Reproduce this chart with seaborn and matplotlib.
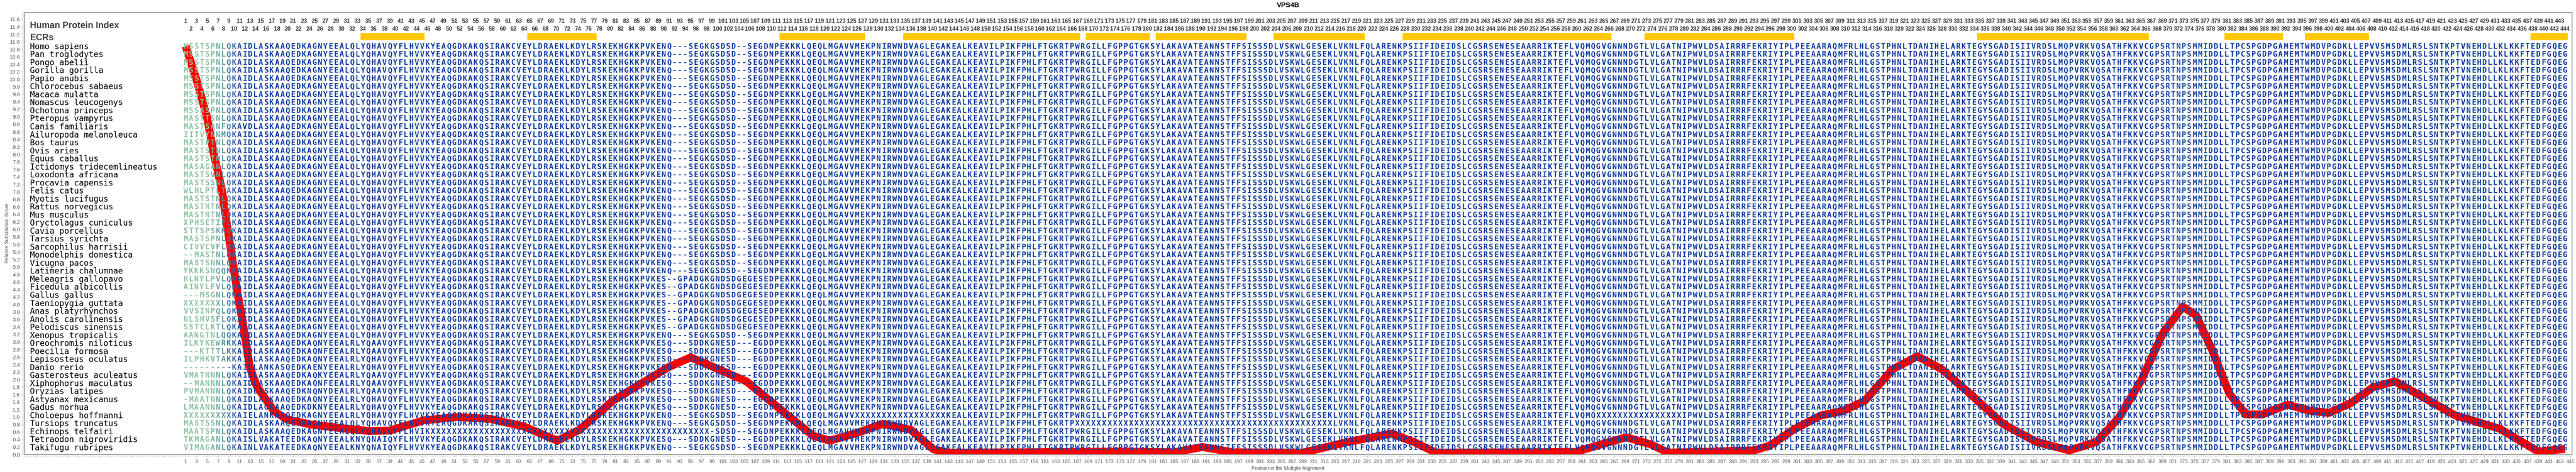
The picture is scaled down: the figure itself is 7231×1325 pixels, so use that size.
import numpy as np
import matplotlib
matplotlib.use('Agg')
import matplotlib.pyplot as plt
import matplotlib.colors as mcolors
from matplotlib import font_manager
from matplotlib.patches import Rectangle
import seaborn as sns

# %% data
species = [
    'Homo sapiens', 'Pan troglodytes', 'Pongo abelii', 'Gorilla gorilla',
    'Papio anubis', 'Chlorocebus sabaeus', 'Macaca mulatta',
    'Nomascus leucogenys', 'Ochotona princeps', 'Pteropus vampyrus',
    'Canis familiaris', 'Ailuropoda melanoleuca', 'Bos taurus', 'Ovis aries',
    'Equus caballus', 'Ictidomys tridecemlineatus', 'Loxodonta africana',
    'Procavia capensis', 'Felis catus', 'Myotis lucifugus',
    'Rattus norvegicus', 'Mus musculus', 'Oryctolagus cuniculus',
    'Cavia porcellus', 'Tarsius syrichta', 'Sarcophilus harrisii',
    'Monodelphis domestica', 'Vicugna pacos', 'Latimeria chalumnae',
    'Meleagris gallopavo', 'Ficedula albicollis', 'Gallus gallus',
    'Taeniopygia guttata', 'Anas platyrhynchos', 'Anolis carolinensis',
    'Pelodiscus sinensis', 'Xenopus tropicalis', 'Oreochromis niloticus',
    'Poecilia formosa', 'Lepisosteus oculatus', 'Danio rerio',
    'Gasterosteus aculeatus', 'Xiphophorus maculatus', 'Oryzias latipes',
    'Astyanax mexicanus', 'Gadus morhua', 'Choloepus hoffmanni',
    'Tursiops truncatus', 'Echinops telfairi', 'Tetraodon nigroviridis',
    'Takifugu rubripes']

human_aligned = (
    "MSSTSPNLQKAIDLASKAAQEDKAGNYEEALQLYQHAVQYFLHVVKYEAQGDKAKQSIRA"
    "KCVEYLDRAEKLKDYLRSKEKHGKKPVKENQ---SEGKGSDSD--SEGDNPEKKK"
    "LQEQLMGAVVMEKPNIRWNDVAGLEGAKEALKEAVILPIKFPHLFTGKRTPWRGILLFGP"
    "PGTGKSYLAKAVATEANNSTFFSISSSDLVSKWLGESEKLVKNLFQLARENKPSIIFIDE"
    "IDSLCGSRSENESEAARRIKTEFLVQMQGVGNNNDGTLVLGATNIPWVLDSAIRRRFEKR"
    "IYIPLPEEAARAQMFRLHLGSTPHNLTDANIHELARKTEGYSGADISIIVRDSLMQPVRK"
    "VQSATHFKKVCGPSRTNPSMMIDDLLTPCSPGDPGAMEMTWMDVPGDKLLEPVVSMSDML"
    "RSLSNTKPTVNEHDLLKLKKFTEDFGQEG")

prefixes = {
    'Ochotona princeps': 'MSSASPNLQKAID',
    'Pteropus vampyrus': 'MASTTSNLQKAID',
    'Canis familiaris': 'MASTSANFQKAVD',
    'Ailuropoda melanoleuca': 'IITVYNNMQKAID',
    'Bos taurus': 'MASTPTNLQKAID',
    'Ovis aries': 'MASTSTNLQKAID',
    'Equus caballus': 'MASTSTNLQKAID',
    'Ictidomys tridecemlineatus': 'MASAGANLQKAID',
    'Loxodonta africana': 'MASTSVNLQKAID',
    'Procavia capensis': 'MASTSSNLQKAID',
    'Felis catus': 'WLHLPTLTAKAID',
    'Myotis lucifugus': 'MASTSTNLQKAID',
    'Rattus norvegicus': 'MASTNTNLQKAID',
    'Mus musculus': 'MASTNTNLQKAID',
    'Oryctolagus cuniculus': 'XPHSETIFLKAID',
    'Cavia porcellus': 'STTSPSKKQKAID',
    'Tarsius syrichta': 'MASTSPNLQKAID',
    'Sarcophilus harrisii': 'CIVVCVFLQKAID',
    'Monodelphis domestica': '--MASTNLQKAID',
    'Vicugna pacos': 'MASTSNNLQKAID',
    'Latimeria chalumnae': 'YKKKSNQQKKAID',
    'Meleagris gallopavo': 'HLNYLPVLQKAID',
    'Ficedula albicollis': 'AINYLFVLQKAID',
    'Gallus gallus': '---MSGNLQKAID',
    'Taeniopygia guttata': 'XXXXXXXLQKAID',
    'Anas platyrhynchos': 'VVSINPQLQKAID',
    'Anolis carolinensis': 'NLSHVSFLQKAID',
    'Pelodiscus sinensis': 'SSTCLKTLQKAID',
    'Xenopus tropicalis': 'AANGTNLQQKAID',
    'Oreochromis niloticus': 'ILKYKEWRKKAIDLASKAAQEDKAQNYEEALRLYQAAV',
    'Poecilia formosa': '---KTTTLKKAIDLASKAAQEDKAQNFEEALRLYQAAV',
    'Lepisosteus oculatus': 'ILPHKVTAKKAIDLASKAAQEDKAQNYEEALRLYQHAV',
    'Danio rerio': '---------KAIDLANKASQEDKAENYEEALRLYQHAV',
    'Gasterosteus aculeatus': 'VMATNNNLQKAIDLASKAAQEDKAQKYEEALRLYQAAV',
    'Xiphophorus maculatus': '--MANNNLQKAIDLASKAAQEDKAQNFEEALRLYQAAV',
    'Oryzias latipes': 'PVMANNNLQKAIDLASKAAQEDKNQNYDEALRLYQAAV',
    'Astyanax mexicanus': '-MAATNNLQKAIDLASKAAQEDKAQNYEEALRLYQHAV',
    'Gadus morhua': 'LMAANNNLQKAIDLAGKAAQEDKDKNYEEALRLYQHAV',
    'Choloepus hoffmanni': 'XXXXXXXXXKAIELANKAAQEDKAGNYEEALRLYQHAV',
    'Tursiops truncatus': 'MASTSSNLQKAIDLASKAAQEDKAGNYEEALQLYQHAV',
    'Echinops telfairi': 'MAATSPNLQKAIDLASKAAQEDKAGNYEEALQLYQHAV',
    'Tetraodon nigroviridis': 'TKMAGANLQKAISLVAKATEEDKAQNYEEALKNYQNAI',
    'Takifugu rubripes': 'VIMAGANLQKAINLVAKATEEDKAQNYEEALKNYQNAI',
}

bird_gap = (88, 'KES--GPADGKGNDSDGEGESEDPEKKK')
fish_gap = (88, 'KESQ---SDDKGNESD---EGDDPEKKK')
edits = {
    'Meleagris gallopavo': [bird_gap], 'Ficedula albicollis': [bird_gap],
    'Gallus gallus': [bird_gap], 'Taeniopygia guttata': [bird_gap],
    'Anas platyrhynchos': [bird_gap], 'Anolis carolinensis': [bird_gap],
    'Pelodiscus sinensis': [bird_gap],
    'Oreochromis niloticus': [fish_gap], 'Poecilia formosa': [fish_gap],
    'Lepisosteus oculatus': [fish_gap], 'Danio rerio': [fish_gap],
    'Gasterosteus aculeatus': [fish_gap], 'Xiphophorus maculatus': [fish_gap],
    'Oryzias latipes': [fish_gap], 'Astyanax mexicanus': [fish_gap],
    'Gadus morhua': [fish_gap], 'Tetraodon nigroviridis': [fish_gap],
    'Choloepus hoffmanni': [(126, 'X' * 17), (264, 'X' * 16)],
    'Tursiops truncatus': [(167, 'X' * 48)],
    'Echinops telfairi': [(45, 'I'), (47, 'X' * 52), (99, '-')],
}

# relative substitution score (position, value)
line_x = [1, 3.2, 5, 6.2, 7.7, 8.6, 9.6, 10.6, 11.7, 12.5, 13.0, 14.2, 15.7,
          17.5, 19.8, 24.3, 30.2, 35, 39, 45.3, 51.5, 57.7, 63.9, 70.2, 74.3,
          80.5, 84.6, 90.9, 95, 99.1, 105.4, 111.5, 117.8, 120.9, 126.1,
          130.8, 136, 140.2, 143, 157, 175, 185, 190.3, 196, 209, 217.2,
          225.5, 229.7, 233.8, 250, 259.8, 264.5, 269.2, 273.8, 277, 288,
          293, 296, 300.3, 305.4, 309.5, 313.6, 318.8, 323.4, 328, 333.2,
          339.3, 345.5, 351.7, 356.8, 360.9, 365, 369.1, 372.8, 375.3, 378.4,
          381.5, 384.6, 387.7, 392.3, 396.4, 400, 404.1, 408.2, 412.3, 416.4,
          423.6, 431.8, 439, 444]
line_y = [10.88, 9.9, 8.97, 8.03, 7.08, 6.2, 5.28, 4.33, 3.45, 2.7, 2.3, 1.83,
          1.51, 1.15, 0.94, 0.8, 0.7, 0.63, 0.64, 0.91, 1.0, 0.95, 0.75, 0.37,
          0.66, 1.43, 1.79, 2.33, 2.59, 2.34, 1.95, 1.23, 0.5, 0.37, 0.58,
          0.82, 0.66, 0.14, 0.05, 0.06, 0.08, 0.06, 0.2, 0.06, 0.05, 0.33,
          0.56, 0.33, 0.05, 0.06, 0.07, 0.27, 0.46, 0.27, 0.05, 0.09, 0.11,
          0.24, 0.66, 1.04, 1.16, 1.43, 2.27, 2.62, 2.27, 1.62, 0.82, 0.34,
          0.11, 0.34, 0.98, 1.95, 3.23, 3.94, 3.71, 2.75, 1.62, 1.07, 1.07,
          1.33, 1.17, 1.11, 1.37, 1.79, 1.95, 1.62, 1.04, 0.69, 0.08, 0.15]

# ECR blocks (first, last position)
ecr_blocks = [(34, 45), (65, 77), (112, 127), (135, 167), (169, 180),
              (182, 198), (204, 220), (228, 266), (273, 300), (335, 366),
              (381, 391), (396, 407), (438, 444)]

n_cols = 444

# %% build rows
cols = np.arange(1, n_cols + 1)
seqs = []
for name in species:
    row = list(human_aligned.ljust(n_cols, '-')[:n_cols])
    p = prefixes.get(name, '')
    row[:len(p)] = list(p)
    for start, txt in edits.get(name, []):
        row[start - 1:start - 1 + len(txt)] = list(txt)
    seqs.append(''.join(row[:n_cols]))

# %% fonts: narrow face if it is there
try:
    f = font_manager.findfont(font_manager.FontProperties(family='Liberation Sans Narrow'),
                              fallback_to_default=False)
    has_narrow = 'Narrow' in f
except Exception:
    has_narrow = False
num_size = 14 if has_narrow else 11.5
head_size = 20 if has_narrow else 18

# %% figure
sns.set_theme(style='white')
plt.rcParams['font.family'] = ['Liberation Sans Narrow', 'Liberation Sans', 'DejaVu Sans']

W, H = 7231, 1325
fig = plt.figure(figsize=(W / 100, H / 100), dpi=100)
fig.patch.set_facecolor('white')
ax = fig.add_axes([69 / W, 49 / H, (7220 - 69) / W, (1276 - 35) / H])

sns.lineplot(x=line_x, y=line_y, ax=ax, color='#ff0000', linewidth=16,
             zorder=1, solid_capstyle='butt', solid_joinstyle='round')

ax.broken_barh([(s - 0.5, e - s + 1) for s, e in ecr_blocks], (11.04, 0.20),
               facecolors='#ffc800', zorder=2)

cmap = sns.blend_palette(['#0b3a9e', '#1d4c9f', '#3c72a0', '#5f9aa0', '#8cc3a0'],
                         as_cmap=True)
norm = mcolors.Normalize(vmin=2.5, vmax=8.5, clip=True)
col_colors = cmap(norm(np.interp(cols, line_x, line_y)))

row_y = 10.89 - 0.2138 * np.arange(len(species))
mono = ['DejaVu Sans Mono']
for r, (name, seq) in enumerate(zip(species, seqs)):
    y = row_y[r]
    ax.text(-28, y, name, family=mono, fontsize=16.5, color='black',
            ha='left', va='center_baseline', zorder=3)
    for c, ch in zip(cols, seq):
        ax.text(c, y, ch, family=mono, fontsize=15, fontweight='bold',
                color=col_colors[c - 1], ha='center', va='center_baseline',
                zorder=3)

# column numbers on top
for c in cols:
    ax.text(c, 11.55 if c % 2 else 11.34, str(c), fontsize=num_size,
            fontweight='bold', color='#3a3a3a', ha='center', va='center')

ax.text(-28, 11.43, 'Human Protein Index', fontsize=head_size, fontweight='bold',
        color='#444444', ha='left', va='center')
ax.text(-28, 11.11, 'ECRs', fontsize=head_size, fontweight='bold',
        color='#444444', ha='left', va='center')

ax.set_xlim(-28.95, 445.3)
ax.set_ylim(0, 11.78)

xt = np.arange(-29, 446, 2)
ax.set_xticks(xt)
ax.set_xticklabels([str(v) if v > 0 else '' for v in xt])
yt = np.round(np.arange(0, 11.61, 0.2), 1)
ax.set_yticks(yt)
ax.set_yticklabels(['%.1f' % v for v in yt])
ax.tick_params(axis='x', length=3, width=1, color='#bbbbbb', labelsize=10,
               labelcolor='#555555', pad=3, bottom=True)
ax.tick_params(axis='y', length=3, width=1, color='#bbbbbb', labelsize=11,
               labelcolor='#555555', pad=3, left=True)

for s in ['top', 'right']:
    ax.spines[s].set_visible(False)
for s in ['left', 'bottom']:
    ax.spines[s].set_position(('outward', 3))
    ax.spines[s].set_color('#bbbbbb')
    ax.spines[s].set_linewidth(1.5)
ax.add_patch(Rectangle((0, 0), 1, 1, transform=ax.transAxes, fill=False,
                       edgecolor='#888888', linewidth=1.5, clip_on=False,
                       zorder=4))

fig.text(0.5, 1 - 15 / H, 'VPS4B', family=['Liberation Sans', 'DejaVu Sans'],
         fontsize=14, fontweight='bold', color='black', ha='center', va='center')
fig.text(0.5, 10 / H, 'Position in the Multiple Alignment',
         family=['Liberation Sans', 'DejaVu Sans'], fontsize=10,
         color='#444444', ha='center', va='center')
fig.text(20 / W, 1 - 655 / H, 'Relative Substitution Score',
         family=['Liberation Sans', 'DejaVu Sans'], fontsize=10,
         color='#555555', ha='center', va='center', rotation=90)

fig.savefig('out.png', dpi=100, facecolor='white')
